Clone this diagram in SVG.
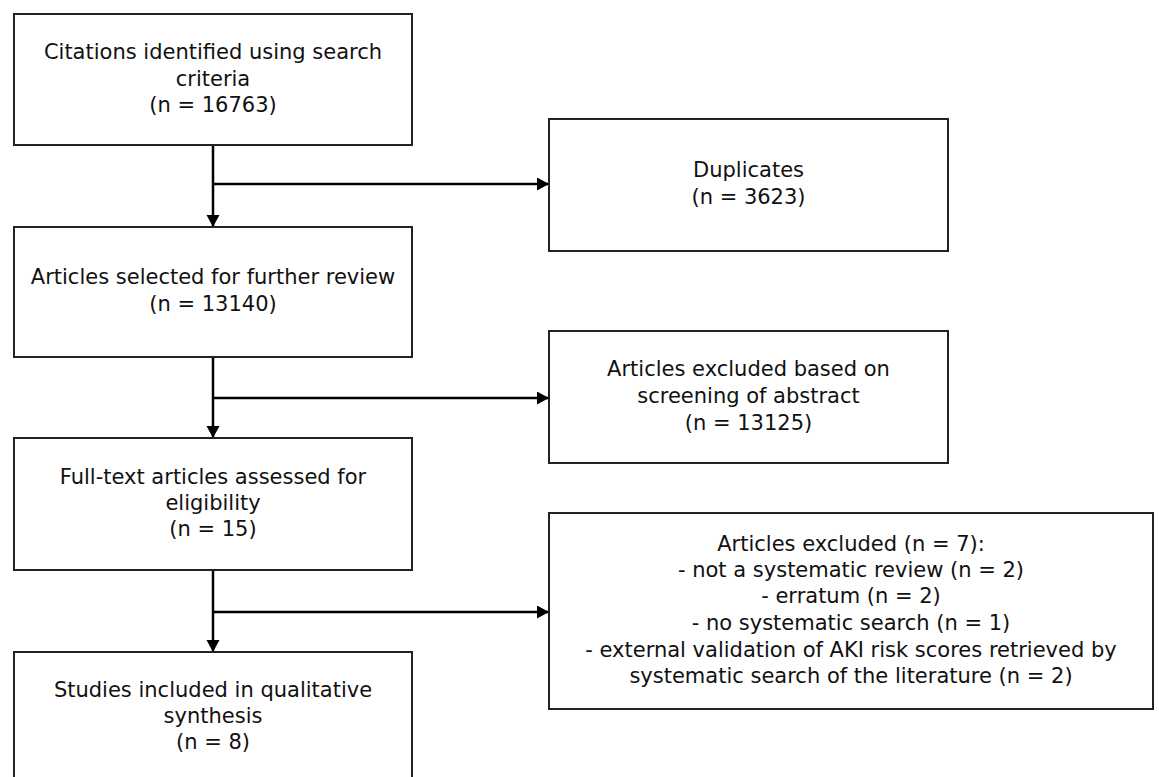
<svg xmlns="http://www.w3.org/2000/svg" width="1159" height="777" viewBox="0 0 1159 777">
  <defs>
    <marker id="arrow" markerUnits="userSpaceOnUse" markerWidth="13" markerHeight="14" refX="12" refY="6.5" orient="auto">
      <path d="M0,0 L12,6.5 L0,13 Z" fill="#000"/>
    </marker>
    <style>
      .box { fill: #fff; stroke: #222; stroke-width: 2; }
      .lbl { font-family: "DejaVu Sans", Verdana, sans-serif; font-size: 21px; fill: #111; text-anchor: middle; }
      .conn { stroke: #000; stroke-width: 2.5; fill: none; }
    </style>
  </defs>
  <rect width="1159" height="777" fill="#fff"/>

  <g id="connectors">
    <line class="conn" x1="213" y1="145" x2="213" y2="227" marker-end="url(#arrow)"/>
    <line class="conn" x1="213" y1="184" x2="549" y2="184" marker-end="url(#arrow)"/>
    <line class="conn" x1="213" y1="357" x2="213" y2="438" marker-end="url(#arrow)"/>
    <line class="conn" x1="213" y1="398" x2="549" y2="398" marker-end="url(#arrow)"/>
    <line class="conn" x1="213" y1="570" x2="213" y2="652" marker-end="url(#arrow)"/>
    <line class="conn" x1="213" y1="612" x2="549" y2="612" marker-end="url(#arrow)"/>
  </g>

  <g id="identified">
    <rect class="box" x="14" y="14" width="398" height="131"/>
    <text class="lbl" x="213" y="59">Citations identified using search</text>
    <text class="lbl" x="213" y="85.5">criteria</text>
    <text class="lbl" x="213" y="112">(n = 16763)</text>
  </g>

  <g id="duplicates">
    <rect class="box" x="549" y="119" width="399" height="132"/>
    <text class="lbl" x="748.5" y="177">Duplicates</text>
    <text class="lbl" x="748.5" y="204">(n = 3623)</text>
  </g>

  <g id="selected">
    <rect class="box" x="14" y="227" width="398" height="130"/>
    <text class="lbl" x="213" y="284">Articles selected for further review</text>
    <text class="lbl" x="213" y="311">(n = 13140)</text>
  </g>

  <g id="excluded-abstract">
    <rect class="box" x="549" y="331" width="399" height="132"/>
    <text class="lbl" x="748.5" y="376">Articles excluded based on</text>
    <text class="lbl" x="748.5" y="403">screening of abstract</text>
    <text class="lbl" x="748.5" y="430">(n = 13125)</text>
  </g>

  <g id="fulltext">
    <rect class="box" x="14" y="438" width="398" height="132"/>
    <text class="lbl" x="213" y="484">Full-text articles assessed for</text>
    <text class="lbl" x="213" y="510">eligibility</text>
    <text class="lbl" x="213" y="536">(n = 15)</text>
  </g>

  <g id="excluded-fulltext">
    <rect class="box" x="549" y="513" width="604" height="196"/>
    <text class="lbl" x="851" y="551">Articles excluded (n = 7):</text>
    <text class="lbl" x="851" y="577">- not a systematic review (n = 2)</text>
    <text class="lbl" x="851" y="603">- erratum (n = 2)</text>
    <text class="lbl" x="851" y="630">- no systematic search (n = 1)</text>
    <text class="lbl" x="851" y="657">- external validation of AKI risk scores retrieved by</text>
    <text class="lbl" x="851" y="683">systematic search of the literature (n = 2)</text>
  </g>

  <g id="included">
    <rect class="box" x="14" y="652" width="398" height="140"/>
    <text class="lbl" x="213" y="697">Studies included in qualitative</text>
    <text class="lbl" x="213" y="723">synthesis</text>
    <text class="lbl" x="213" y="749">(n = 8)</text>
  </g>
</svg>
